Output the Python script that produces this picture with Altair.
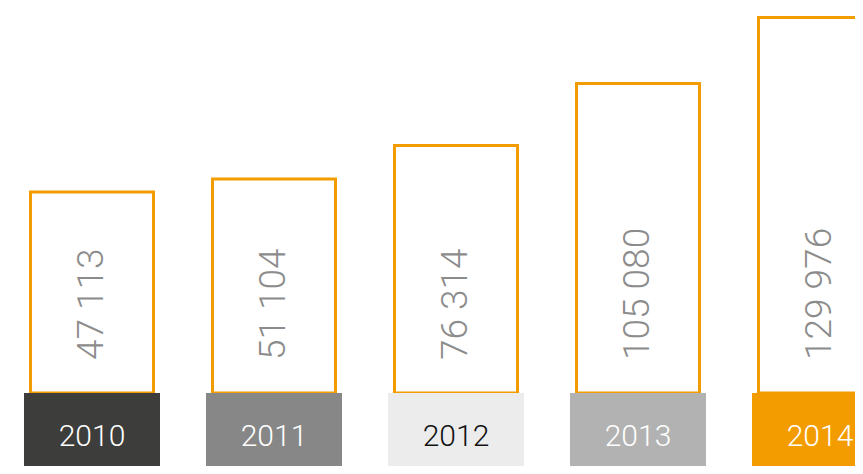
import altair as alt
import pandas as pd

years = ["2010", "2011", "2012", "2013", "2014"]
values = [47113, 51104, 76314, 105080, 129976]
# bar heights as drawn in the picture (not proportional to the values)
bar_heights = [201, 214, 247.5, 309.5, 375.5]

df = pd.DataFrame({
    "year": years,
    "value": values,
    "h": bar_heights,
    "idx": list(range(len(years))),
})
df["label"] = df["value"].map(lambda v: f"{v:,}".replace(",", " "))

W, H = 847, 458
box_colors = ["#3d3d3c", "#878787", "#ececec", "#b2b2b2", "#f39c00"]
orange = "#f39c00"
FONT = "Roboto"

xs = alt.Scale(domain=[-0.4615, 4.1923], nice=False, zero=False, padding=0)
ys = alt.Scale(domain=[-73, 385], nice=False, zero=False, padding=0)
X = alt.X("idx:Q", scale=xs, axis=None)

base = alt.Chart(df)

bars = base.mark_bar(width=123, fill="white", stroke=orange, strokeWidth=3, clip=True).encode(
    x=X,
    y=alt.Y("h:Q", scale=ys, axis=None),
    y2=alt.datum(0),
)

boxes = base.mark_bar(width=136, clip=True).encode(
    x=X,
    y=alt.datum(0, scale=ys),
    y2=alt.value(H + 10),
    color=alt.Color("year:N", scale=alt.Scale(domain=years, range=box_colors), legend=None),
)

vals = base.mark_text(
    angle=270, align="left", baseline="middle", font=FONT, fontWeight=300,
    fontSize=37, color="#8c8c8c", clip=True,
).encode(
    x=X,
    y=alt.datum(33, scale=ys),
    text="label:N",
)

yrs = base.mark_text(
    align="center", baseline="middle", font=FONT, fontWeight=300, fontSize=30, clip=True,
).encode(
    x=X,
    y=alt.datum(-44, scale=ys),
    text="year:N",
    color=alt.condition(alt.datum.year == "2012", alt.value("#111111"), alt.value("white")),
)

chart = alt.layer(bars, boxes, vals, yrs).properties(
    width=W, height=H, padding=0, autosize=alt.AutoSizeParams(type="none"),
    background="white",
).configure_view(stroke=None)

chart.save("out.html", embed_options={"renderer": "svg", "actions": False})
